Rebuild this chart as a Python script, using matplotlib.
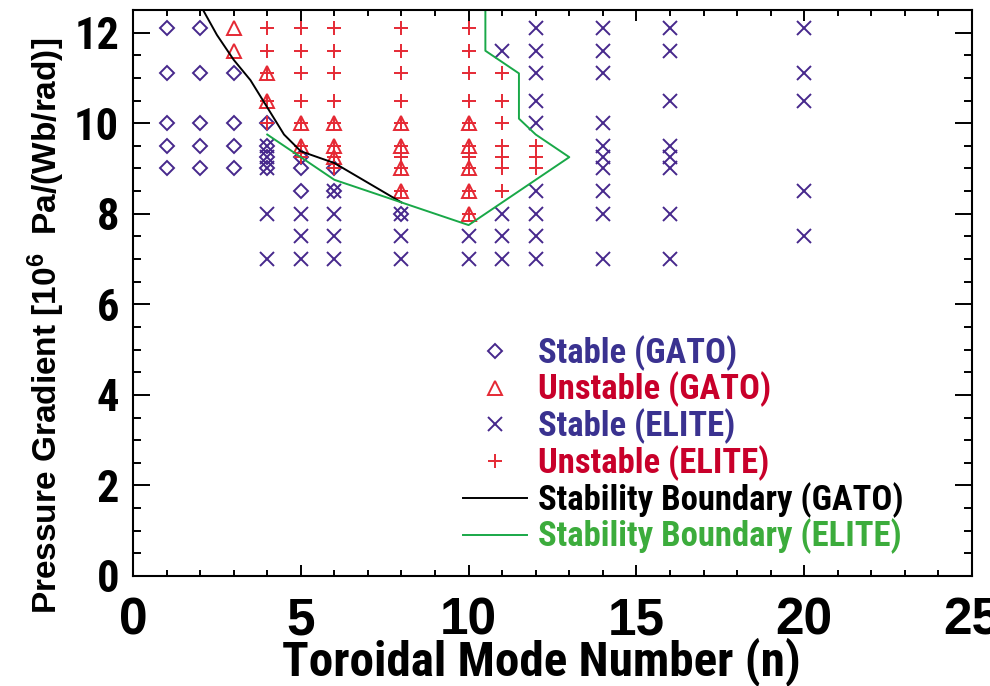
import os
import matplotlib
matplotlib.use("Agg")
import matplotlib.pyplot as plt
from matplotlib import font_manager
from matplotlib.lines import Line2D
from matplotlib.ticker import MultipleLocator

# ---- data -------------------------------------------------------------
# GATO, stable (diamonds)
gato_stable_n = [1, 1, 1, 1, 1,
                 2, 2, 2, 2, 2,
                 3, 3, 3, 3,
                 4, 4, 4, 4,
                 5, 5, 5,
                 6, 6,
                 8]
gato_stable_p = [12.1, 11.1, 10.0, 9.5, 9.0,
                 12.1, 11.1, 10.0, 9.5, 9.0,
                 11.1, 10.0, 9.5, 9.0,
                 10.0, 9.5, 9.25, 9.0,
                 9.25, 9.0, 8.5,
                 9.0, 8.5,
                 8.0]

# GATO, unstable (triangles)
gato_unstable_n = [3, 3,
                   4, 4,
                   5, 5,
                   6, 6, 6,
                   8, 8, 8, 8,
                   10, 10, 10, 10, 10]
gato_unstable_p = [12.1, 11.6,
                   11.1, 10.5,
                   10.0, 9.5,
                   10.0, 9.5, 9.25,
                   10.0, 9.5, 9.0, 8.5,
                   10.0, 9.5, 9.0, 8.5, 8.0]

# ELITE, stable (crosses)
elite_stable_n = [4, 4, 4, 4, 4,
                  5, 5, 5,
                  6, 6, 6, 6,
                  8, 8, 8,
                  10, 10,
                  11, 11, 11, 11,
                  12, 12, 12, 12, 12, 12, 12, 12, 12,
                  14, 14, 14, 14, 14, 14, 14, 14, 14, 14,
                  16, 16, 16, 16, 16, 16, 16, 16,
                  20, 20, 20, 20, 20]
elite_stable_p = [9.5, 9.25, 9.0, 8.0, 7.0,
                  8.0, 7.5, 7.0,
                  8.5, 8.0, 7.5, 7.0,
                  8.0, 7.5, 7.0,
                  7.5, 7.0,
                  11.6, 8.0, 7.5, 7.0,
                  12.1, 11.6, 11.1, 10.5, 10.0, 8.5, 8.0, 7.5, 7.0,
                  12.1, 11.6, 11.1, 10.0, 9.5, 9.25, 9.0, 8.5, 8.0, 7.0,
                  12.1, 11.6, 10.5, 9.5, 9.25, 9.0, 8.0, 7.0,
                  12.1, 11.1, 10.5, 8.5, 7.5]

# ELITE, unstable (plus signs)
elite_unstable_n = [4, 4, 4, 4, 4,
                    5, 5, 5, 5, 5, 5, 5,
                    6, 6, 6, 6, 6, 6, 6, 6,
                    8, 8, 8, 8, 8, 8, 8, 8, 8,
                    10, 10, 10, 10, 10, 10, 10, 10, 10, 10,
                    11, 11, 11, 11, 11, 11, 11,
                    12, 12, 12]
elite_unstable_p = [12.1, 11.6, 11.1, 10.5, 10.0,
                    12.1, 11.6, 11.1, 10.5, 10.0, 9.5, 9.25,
                    12.1, 11.6, 11.1, 10.5, 10.0, 9.5, 9.25, 9.0,
                    12.1, 11.6, 11.1, 10.5, 10.0, 9.5, 9.25, 9.0, 8.5,
                    12.1, 11.6, 11.1, 10.5, 10.0, 9.5, 9.25, 9.0, 8.5, 8.0,
                    11.1, 10.5, 10.0, 9.5, 9.25, 9.0, 8.5,
                    9.5, 9.25, 9.0]

# stability boundaries
gato_boundary_n = [2.05, 2.5, 3.0, 3.5, 4.0, 4.5, 5.0, 6.0, 8.0]
gato_boundary_p = [12.55, 11.95, 11.4, 10.95, 10.35, 9.75, 9.38, 9.12, 8.25]

elite_boundary_n = [4, 5, 6, 8, 10, 11, 12, 13, 12, 11.5, 11.5, 10.5, 10.5]
elite_boundary_p = [9.75, 9.25, 8.75, 8.25, 7.75, 8.25, 8.75, 9.25, 9.75,
                    10.1, 11.1, 11.6, 12.6]

legend_labels = ["Stable (GATO)", "Unstable (GATO)", "Stable (ELITE)",
                 "Unstable (ELITE)", "Stability Boundary (GATO)",
                 "Stability Boundary (ELITE)"]

# ---- fonts ------------------------------------------------------------
def condensed_bold():
    """Return FontProperties of a bold narrow/condensed sans face, if any."""
    prefs = ["liberation sans narrow", "arial narrow", "roboto condensed",
             "noto sans", "dejavu sans", "open sans", "lato", "inter"]
    best, best_rank = None, None
    for f in font_manager.fontManager.ttflist:
        nm = (f.name + " " + os.path.basename(f.fname)).lower()
        st = str(f.stretch).lower()
        if not ("narrow" in nm or "condensed" in nm or "condensed" in st):
            continue
        if "extra" in nm or "ultra" in nm or "extra" in st or "ultra" in st:
            continue
        if f.style != "normal" or "italic" in nm or "oblique" in nm:
            continue
        w = f.weight
        if not isinstance(w, (int, float)):
            w = font_manager.weight_dict.get(str(w), 400)
        if w < 600 or w > 800:
            continue
        rank = len(prefs)
        for i, p in enumerate(prefs):
            if p in nm:
                rank = i
                break
        if "semi" in nm or "semi" in st:
            rank += 0.5
        if best_rank is None or rank < best_rank:
            best, best_rank = f, rank
    if best is None:
        return font_manager.FontProperties(family="Liberation Sans", weight="bold")
    return font_manager.FontProperties(fname=best.fname)

NARROW = condensed_bold()


def narrow(size):
    fp = NARROW.copy()
    fp.set_size(size)
    return fp


plt.rcParams["font.family"] = ["Liberation Sans", "DejaVu Sans"]
plt.rcParams["font.weight"] = "bold"
plt.rcParams["mathtext.default"] = "regular"

PURPLE = "#46288c"
RED = "#e52934"
TXT_BLUE = "#3a3290"
TXT_RED = "#c8002a"
GREEN = "#19a848"
TXT_GREEN = "#3cac3c"

fig = plt.figure(figsize=(9.9, 6.86), dpi=100)
ax = fig.add_axes([133 / 990, 1 - 576 / 686, (972 - 133) / 990, (576 - 10) / 686])

mew = 1.4
ax.plot(gato_stable_n, gato_stable_p, ls="none", marker="D", ms=6.8,
        mfc="none", mec=PURPLE, mew=mew)
ax.plot(gato_unstable_n, gato_unstable_p, ls="none", marker="^", ms=10,
        mfc="none", mec=RED, mew=mew)
ax.plot(elite_stable_n, elite_stable_p, ls="none", marker="x", ms=9.6,
        mec=PURPLE, mew=mew)
ax.plot(elite_unstable_n, elite_unstable_p, ls="none", marker="+", ms=10,
        mec=RED, mew=mew)
ax.plot(gato_boundary_n, gato_boundary_p, color="black", lw=1.4)
ax.plot(elite_boundary_n, elite_boundary_p, color=GREEN, lw=1.4)

ax.set_xlim(0, 25)
ax.set_ylim(0, 12.5)
ax.xaxis.set_major_locator(MultipleLocator(5))
ax.xaxis.set_minor_locator(MultipleLocator(1))
ax.yaxis.set_major_locator(MultipleLocator(2))
ax.yaxis.set_minor_locator(MultipleLocator(0.5))

for s in ax.spines.values():
    s.set_linewidth(1.5)
ax.tick_params(axis="both", which="both", direction="in", top=True, right=True,
               width=1.4)
ax.tick_params(axis="x", which="major", length=8, pad=15, labelsize=37)
ax.tick_params(axis="x", which="minor", length=4)
ax.tick_params(axis="y", which="major", length=12, pad=10)
ax.tick_params(axis="y", which="minor", length=6)
for lab in ax.get_xticklabels():
    lab.set_fontweight("bold")
for lab in ax.get_yticklabels():
    lab.set_fontproperties(narrow(32))

fig.text(541.5 / 990, 1 - 675 / 686, "Toroidal Mode Number (n)",
         ha="center", va="baseline", fontproperties=narrow(35.4))
fig.text(46 / 990, 1 - 326 / 686, r"Pressure Gradient [10$^{6}$  Pa/(Wb/rad)]",
         ha="center", va="center", rotation=90, fontsize=24, fontweight="bold")

handles = [
    Line2D([], [], ls="none", marker="D", ms=6.8, mfc="none", mec=PURPLE, mew=mew),
    Line2D([], [], ls="none", marker="^", ms=10, mfc="none", mec=RED, mew=mew),
    Line2D([], [], ls="none", marker="x", ms=9.6, mec=PURPLE, mew=mew),
    Line2D([], [], ls="none", marker="+", ms=10, mec=RED, mew=mew),
    Line2D([], [], color="black", lw=1.4),
    Line2D([], [], color=GREEN, lw=1.4),
]
LEG_PT = 24.9
leg = ax.legend(handles, legend_labels, loc="upper left",
                bbox_to_anchor=(463 / 990, 1 - 335 / 686),
                bbox_transform=fig.transFigure, frameon=False,
                borderpad=0, borderaxespad=0, labelspacing=0.03,
                handlelength=64 / (LEG_PT * 100 / 72),
                handletextpad=11 / (LEG_PT * 100 / 72), markerscale=1.0,
                prop=narrow(LEG_PT),
                labelcolor=[TXT_BLUE, TXT_RED, TXT_BLUE, TXT_RED, "black", TXT_GREEN])

fig.savefig("out.png", dpi=100)
